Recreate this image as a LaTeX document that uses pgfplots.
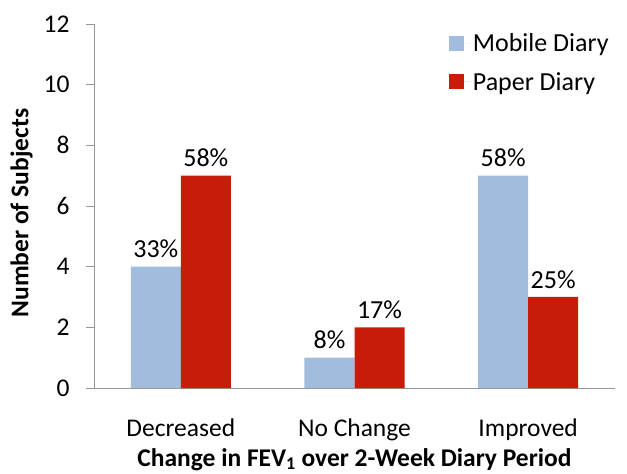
\documentclass[border=0pt]{standalone}
\usepackage{fontspec}
\setmainfont{Carlito}
\usepackage{pgfplots}
\pgfplotsset{compat=1.18}
\definecolor{mobile}{RGB}{162,188,221}
\definecolor{paper}{RGB}{198,28,8}
\definecolor{axgray}{RGB}{150,150,150}
\begin{document}
\begin{tikzpicture}
\begin{axis}[
  name=ax,
  scale only axis,
  width=521bp, height=364bp,
  xmin=-0.5, xmax=2.5,
  ymin=0, ymax=12,
  ytick={0,2,...,12},
  xtick={0,1,2},
  xticklabels={Decreased, No Change, Improved},
  major x tick style={draw=none},
  extra x ticks={-0.5,0.5,1.5},
  extra x tick labels={},
  extra x tick style={major tick length=8bp, tick style={draw=axgray}, tick align=outside},
  axis x line*=bottom,
  axis y line*=left,
  axis line style={draw=axgray, line width=0.6pt, -},
  tick style={draw=axgray, line width=0.6pt},
  tick align=outside,
  major tick length=8bp,
  font=\fontsize{25.5bp}{30bp}\selectfont,
  ticklabel style={font=\fontsize{25.5bp}{30bp}\selectfont},
  /pgf/number format/assume math mode=true,
  yticklabel style={xshift=-13bp},
  xticklabel style={yshift=-19bp},
  ylabel={\bfseries Number of Subjects},
  ylabel style={yshift=4bp, xshift=-7bp, font=\fontsize{25.5bp}{30bp}\selectfont},
  xlabel={\bfseries Change in FEV\textsubscript{1} over 2-Week Diary Period},
  xlabel style={yshift=12bp, inner sep=0pt, font=\fontsize{25.5bp}{30bp}\selectfont},
  ybar,
  bar width=0.288,
  nodes near coords,
  point meta=explicit symbolic,
  every node near coord/.append style={font=\fontsize{26bp}{30bp}\selectfont, text=black, yshift=5bp},
  legend style={draw=none, fill=none, at={(0.675,0.985)}, anchor=north west,
    font=\fontsize{26bp}{30bp}\selectfont, row sep=15bp, legend cell align=left},
  legend image code/.code={\fill[#1] (0bp,-7.5bp) rectangle (15bp,7.5bp); \path (15bp,0bp) -- (22bp,0bp);},
]
\addplot[fill=mobile, draw=none, bar shift=-0.144] coordinates {(0,4) [33\%] (1,1) [8\%] (2,7) [58\%]};
\addplot[fill=paper, draw=none, bar shift=0.144] coordinates {(0,7) [58\%] (1,2) [17\%] (2,3) [25\%]};
\legend{Mobile Diary, Paper Diary}
\end{axis}
\path[use as bounding box] ([shift={(-94bp,-86bp)}]ax.south west) rectangle ([shift={(12bp,24bp)}]ax.north east);
\end{tikzpicture}
\end{document}
